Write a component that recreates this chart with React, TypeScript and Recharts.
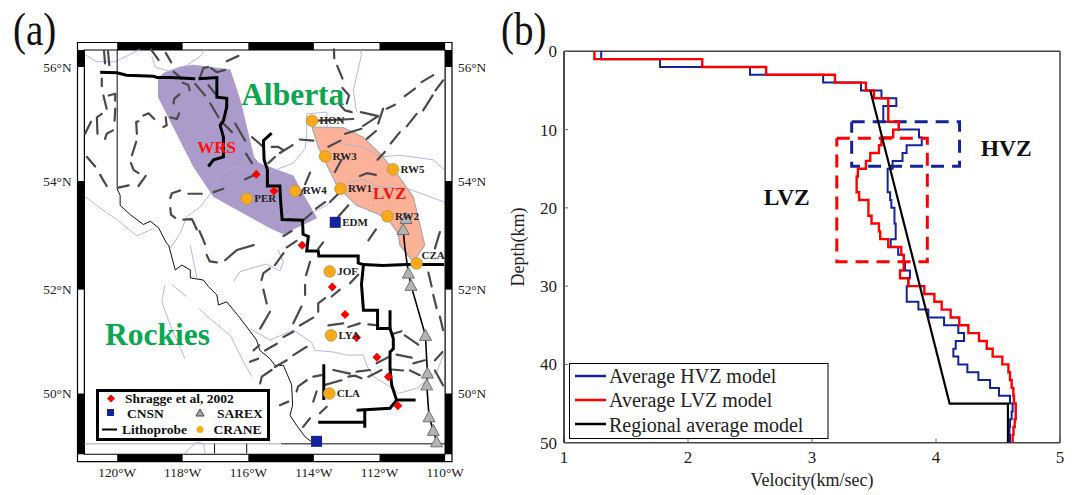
import { ScatterChart, Scatter, XAxis, YAxis, ReferenceArea } from 'recharts';

const SERIF = '"Liberation Serif", "Times New Roman", serif';

// panel (a): map values, [lon, lat]
const lonTicks = [-120, -118, -116, -114, -112, -110];
const latTicks = [50, 52, 54, 56];
const lonLabels = ['120°W', '118°W', '116°W', '114°W', '112°W', '110°W'];
const latLabels = ['50°N', '52°N', '54°N', '56°N'];

const wrsZone = [[-118.74, 55.8], [-118.59, 55.89], [-118.08, 56.0], [-117.67, 56.03], [-116.56, 55.95], [-116.25, 55.42], [-115.84, 54.43], [-115.69, 54.32], [-114.63, 54.09], [-114.43, 53.86], [-113.92, 53.33], [-114.93, 53.04], [-115.34, 53.15], [-117.06, 53.72], [-117.67, 54.26], [-118.59, 55.31], [-118.74, 55.48], [-118.74, 55.8]];
const lvzZone = [[-114.06, 54.96], [-113.11, 54.95], [-112.5, 54.78], [-111.99, 54.49], [-111.48, 54.14], [-110.97, 53.71], [-110.62, 52.83], [-110.97, 52.52], [-111.38, 52.83], [-111.43, 53.04], [-111.73, 53.3], [-112.09, 53.41], [-112.7, 53.56], [-113.26, 53.88], [-113.56, 54.23], [-113.87, 54.61], [-114.06, 54.96]];

const rivers = [
  [[-120.98, 56.21], [-120.62, 56.09], [-120.06, 56.09], [-119.3, 56.3]],
  [[-118.94, 56.18], [-118.84, 56.0], [-118.38, 55.92], [-117.88, 56.03], [-117.47, 56.18], [-117.32, 56.3]],
  [[-120.98, 53.72], [-120.52, 53.51], [-120.01, 53.3], [-119.4, 53.0], [-118.89, 53.14]],
  [[-118.38, 52.77], [-118.08, 53.05], [-117.88, 53.35], [-117.47, 53.53], [-117.16, 53.77], [-116.86, 54.14], [-116.35, 54.26], [-115.74, 54.14], [-115.44, 54.14], [-114.63, 54.32], [-114.27, 54.58], [-114.22, 54.84], [-114.22, 55.19], [-113.61, 55.22], [-113.59, 54.93]],
  [[-117.77, 52.83], [-117.57, 52.22]],
  [[-118.33, 52.09], [-117.88, 51.87]],
  [[-118.54, 52.09], [-118.64, 51.78], [-118.38, 51.32], [-117.93, 50.68]],
  [[-117.52, 51.65], [-117.06, 51.39], [-116.55, 51.13], [-116.15, 50.62], [-115.89, 50.33]],
  [[-116.45, 52.15], [-116.25, 52.34], [-115.74, 52.43], [-115.44, 52.48], [-115.04, 52.35], [-114.93, 52.52], [-115.09, 52.74]],
  [[-117.98, 48.79], [-117.57, 49.04], [-117.37, 49.0], [-117.32, 48.81]],
  [[-115.95, 51.26], [-115.34, 51.04], [-114.63, 51.23], [-114.07, 51.0], [-113.97, 50.84], [-113.41, 50.81], [-113.0, 50.75], [-112.49, 50.75], [-112.39, 50.55], [-112.18, 50.33], [-111.68, 50.13], [-111.43, 50.0], [-110.87, 50.1], [-110.26, 50.42], [-110.03, 50.78]],
  [[-112.6, 56.3], [-112.55, 56.21], [-112.8, 55.6], [-112.7, 55.22]],
  [[-113.21, 54.67], [-112.5, 54.61], [-111.99, 54.43], [-111.38, 54.46], [-110.36, 54.38], [-110.03, 54.2]],
  [[-114.02, 53.44], [-113.61, 53.56], [-113.31, 53.74], [-113.0, 53.97], [-112.5, 54.03], [-112.09, 53.91], [-111.07, 53.85], [-110.67, 53.76], [-110.03, 53.62]],
  [[-114.99, 53.09], [-114.83, 53.38], [-114.43, 53.56]],
];

const provinceBorder = [[-120, 56.3], [-120, 53.86], [-119.91, 53.74], [-119.91, 53.56], [-119.6, 53.39], [-119.2, 53.21], [-118.99, 53.27], [-118.74, 53.15], [-118.49, 52.86], [-118.43, 52.83], [-118.23, 52.37], [-118.03, 52.46], [-117.77, 52.37], [-117.77, 52.22], [-117.37, 52.18], [-117.22, 52.06], [-116.96, 51.9], [-116.91, 51.71], [-116.66, 51.77], [-116.25, 51.46], [-115.75, 51.04], [-115.65, 50.84], [-115.34, 50.68], [-115.19, 50.55], [-114.93, 50.55], [-114.68, 50.17], [-114.65, 49.77], [-114.73, 49.57], [-114.53, 49.37], [-114.27, 49.14], [-114.07, 49.04]];
const borderGray = [[-121, 49], [-115, 49]];
const borderBlack = [[-115, 49], [-110, 49]];
const gridStubs = [
  [[-117.03, 49], [-117.03, 48.81]],
  [[-116.05, 49], [-116.05, 48.81]],
];

const faults = [
  [[-120.4, 56.27], [-120.37, 56.06]],
  [[-120.28, 56.27], [-120.24, 56.03]],
  [[-118.97, 56.3], [-118.74, 56.12]],
  [[-118.52, 56.24], [-118.35, 56.08]],
  [[-116.66, 56.1], [-116.3, 56.19]],
  [[-118.28, 55.92], [-118.03, 55.8]],
  [[-117.47, 55.83], [-117.37, 55.98], [-117.22, 56.0]],
  [[-117.14, 55.98], [-116.96, 55.91], [-116.71, 55.95]],
  [[-120.47, 55.8], [-120.47, 55.67]],
  [[-120.42, 55.51], [-120.32, 55.28]],
  [[-120.26, 55.51], [-120.06, 55.54], [-120.06, 55.42]],
  [[-120.06, 55.28], [-120.08, 55.07]],
  [[-120.47, 55.19], [-120.62, 55.13], [-120.6, 54.84]],
  [[-120.98, 54.84], [-120.8, 55.05]],
  [[-120.37, 54.75], [-120.32, 54.84], [-120.13, 54.9]],
  [[-119.4, 54.84], [-119.42, 55.05], [-119.35, 55.06]],
  [[-119.2, 55.16], [-119.04, 55.2], [-118.87, 55.1]],
  [[-118.52, 55.13], [-118.49, 54.99], [-118.59, 54.96]],
  [[-118.38, 55.13], [-118.18, 55.1], [-118.11, 55.2]],
  [[-118.28, 55.37], [-118.26, 55.45], [-118.1, 55.53]],
  [[-118.0, 55.73], [-117.83, 55.69], [-117.79, 55.6]],
  [[-117.62, 55.71], [-117.32, 55.51]],
  [[-117.16, 55.37], [-116.91, 55.13]],
  [[-117.22, 55.69], [-117.01, 55.54]],
  [[-116.81, 55.05], [-116.5, 54.87]],
  [[-116.4, 55.02], [-116.1, 54.72]],
  [[-116.07, 54.49], [-115.89, 54.32]],
  [[-115.89, 54.78], [-115.54, 54.61]],
  [[-119.42, 54.7], [-119.55, 54.46]],
  [[-119.58, 54.32], [-119.5, 54.2], [-119.35, 54.14]],
  [[-119.35, 53.91], [-119.13, 54.09]],
  [[-119.96, 53.88], [-119.65, 53.92]],
  [[-120.92, 54.43], [-120.67, 54.26]],
  [[-120.52, 54.11], [-120.32, 53.91]],
  [[-118.38, 53.69], [-118.33, 53.78], [-118.08, 53.83]],
  [[-117.83, 53.77], [-117.42, 53.77]],
  [[-117.06, 53.8], [-116.76, 53.86]],
  [[-116.1, 54.03], [-115.79, 54.11]],
  [[-118.38, 53.51], [-118.36, 53.39], [-118.23, 53.33]],
  [[-117.98, 53.3], [-117.72, 53.31], [-117.57, 53.12]],
  [[-117.49, 53.09], [-117.32, 52.85]],
  [[-117.27, 52.65], [-117.18, 52.53], [-116.96, 52.51]],
  [[-116.71, 52.55], [-116.35, 52.74], [-115.84, 52.83]],
  [[-115.84, 50.84], [-115.67, 50.94]],
  [[-113.39, 56.3], [-113.38, 56.15]],
  [[-113.29, 56.02], [-113.13, 55.8]],
  [[-113.13, 55.64], [-112.93, 55.51], [-113.0, 55.37]],
  [[-113.21, 55.35], [-113.05, 55.25], [-112.85, 55.22]],
  [[-112.57, 55.22], [-112.04, 55.15], [-112.5, 54.98]],
  [[-111.89, 55.28], [-112.04, 55.02]],
  [[-111.78, 55.28], [-111.53, 55.35]],
  [[-111.23, 55.5], [-110.92, 55.63]],
  [[-110.72, 55.74], [-110.36, 55.86]],
  [[-112.39, 54.75], [-112.11, 54.89]],
  [[-111.66, 54.67], [-111.38, 54.87]],
  [[-111.17, 54.97], [-110.87, 55.19]],
  [[-110.67, 55.25], [-110.38, 55.51]],
  [[-110.29, 55.6], [-110.06, 55.77]],
  [[-112.06, 54.38], [-111.84, 54.52]],
  [[-113.87, 55.07], [-112.8, 55.1]],
  [[-113.05, 54.84], [-112.55, 54.93]],
  [[-113.56, 54.61], [-113.19, 54.72]],
  [[-114.43, 54.74], [-114.02, 54.72]],
  [[-113.36, 54.16], [-113.16, 54.38]],
  [[-112.6, 54.09], [-112.39, 54.14], [-112.11, 54.11]],
  [[-115.04, 54.5], [-114.65, 54.64]],
  [[-115.29, 54.61], [-115.09, 54.61], [-114.93, 54.55]],
  [[-115.39, 54.32], [-115.19, 54.43]],
  [[-114.27, 53.94], [-114.12, 54.15]],
  [[-114.43, 53.74], [-114.33, 53.85]],
  [[-113.94, 53.5], [-113.66, 53.62]],
  [[-114.93, 53.0], [-114.68, 53.09]],
  [[-114.3, 53.3], [-114.07, 53.42]],
  [[-113.51, 53.62], [-113.26, 53.77]],
  [[-113.26, 53.35], [-112.95, 53.56]],
  [[-112.34, 52.92], [-112.11, 53.12]],
  [[-110.31, 52.77], [-110.16, 53.07]],
  [[-114.83, 52.79], [-114.53, 52.91]],
  [[-113.87, 52.76], [-113.72, 52.88]],
  [[-114.93, 52.68], [-115.19, 52.46]],
  [[-115.6, 52.18], [-115.54, 52.31], [-115.34, 52.4]],
  [[-115.54, 52.0], [-115.44, 51.74]],
  [[-115.34, 51.58], [-115.64, 51.26]],
  [[-114.12, 52.52], [-114.24, 52.27]],
  [[-114.27, 52.09], [-114.27, 51.9]],
  [[-114.38, 51.68], [-114.63, 51.36]],
  [[-114.93, 51.1], [-114.63, 51.2]],
  [[-115.49, 50.84], [-115.13, 50.97]],
  [[-113.87, 51.58], [-113.87, 51.74], [-113.66, 51.84]],
  [[-113.46, 51.87], [-113.21, 52.0]],
  [[-112.9, 52.12], [-112.65, 52.28]],
  [[-114.43, 51.32], [-114.02, 51.47]],
  [[-113.56, 51.32], [-113.11, 51.36]],
  [[-112.95, 51.29], [-112.6, 51.36]],
  [[-112.34, 51.34], [-112.04, 51.32]],
  [[-114.63, 50.75], [-114.22, 50.91]],
  [[-115.95, 50.62], [-115.7, 50.68]],
  [[-115.19, 50.52], [-114.83, 50.65]],
  [[-115.64, 50.2], [-115.59, 50.33], [-115.29, 50.46]],
  [[-113.41, 50.46], [-112.9, 50.39]],
  [[-112.95, 50.33], [-112.75, 50.35], [-112.55, 50.3]],
  [[-112.7, 50.43], [-112.29, 50.46]],
  [[-112.34, 50.33], [-111.94, 50.46]],
  [[-112.09, 50.59], [-111.73, 50.71]],
  [[-114.53, 50.04], [-114.48, 50.14], [-114.22, 50.26]],
  [[-114.02, 50.33], [-113.77, 50.36]],
  [[-113.66, 50.17], [-113.16, 50.26]],
  [[-115.04, 49.77], [-114.78, 49.84]],
  [[-114.02, 49.84], [-113.92, 50.04]],
  [[-113.82, 49.61], [-113.61, 49.74]],
  [[-114.33, 49.34], [-114.12, 49.51]],
  [[-111.58, 51.16], [-111.33, 51.21]],
  [[-111.23, 51.13], [-110.82, 50.95]],
  [[-111.48, 50.76], [-111.02, 50.7]],
  [[-110.97, 50.59], [-110.62, 50.65]],
  [[-111.63, 50.47], [-111.28, 50.45]],
  [[-111.07, 50.45], [-110.77, 50.36]],
  [[-110.51, 52.32], [-110.41, 52.06]],
  [[-110.36, 51.9], [-110.26, 51.65]],
  [[-110.16, 51.49], [-110.06, 51.23]],
  [[-110.31, 50.45], [-110.06, 50.16]],
  [[-110.31, 50.65], [-110.08, 50.81]],
];

const lithoprobe = [
  [[-120.52, 55.91], [-120.01, 55.9], [-119.71, 55.86], [-118.89, 55.84], [-118.79, 55.82], [-118.38, 55.82], [-117.62, 55.8]],
  [[-117.52, 55.8], [-116.96, 55.82], [-116.96, 55.48], [-116.66, 55.46], [-116.66, 55.31], [-116.76, 55.07], [-116.86, 54.99], [-116.76, 54.78], [-116.76, 54.43], [-117.06, 54.38], [-117.22, 54.26]],
  [[-115.29, 54.85], [-115.54, 54.72], [-115.52, 54.38], [-115.42, 54.2], [-115.42, 53.91], [-115.04, 53.91], [-115.02, 53.67], [-114.97, 53.3], [-114.35, 53.29], [-114.33, 53.03], [-114.17, 52.99], [-114.22, 52.72], [-113.87, 52.72], [-113.85, 52.63], [-112.65, 52.63], [-112.65, 52.5], [-112.51, 52.47], [-111.89, 52.45], [-111.17, 52.47], [-110.03, 52.47]],
  [[-112.49, 52.47], [-112.55, 52.1], [-112.49, 51.61], [-112.06, 51.61], [-112.06, 51.26], [-111.68, 51.26], [-111.58, 51.07], [-111.58, 50.87], [-111.68, 50.81], [-111.68, 50.49], [-111.63, 50.17], [-111.48, 49.87], [-111.68, 49.71], [-112.7, 49.67]],
  [[-111.68, 51.61], [-111.68, 51.26]],
  [[-111.48, 49.87], [-110.9, 49.87]],
  [[-112.45, 49.67], [-112.45, 49.32]],
  [[-112.45, 49.43], [-113.87, 49.43]],
  [[-113.7, 50.57], [-113.7, 49.87]],
];

const sarex = [[-111.19, 53.32], [-111.28, 53.12], [-111.12, 52.31], [-111.04, 52.08], [-110.6, 51.13], [-110.54, 50.4], [-110.56, 50.17], [-110.49, 49.54], [-110.36, 49.27], [-110.26, 49.04]];
const sarexLine = [[-111.28, 53.12], [-111.23, 52.8], [-111.12, 52.31], [-111.04, 52.08], [-110.6, 51.13], [-110.54, 50.4], [-110.56, 50.17], [-110.49, 49.54], [-110.36, 49.27], [-110.26, 49.04]];
const shragge = [[-115.76, 54.12], [-115.22, 53.82], [-114.36, 52.83], [-113.44, 52.05], [-113.05, 51.53], [-112.7, 51.09], [-112.08, 50.71], [-111.73, 50.33], [-111.44, 49.76]];
const cnsn = [[-113.35, 53.25, 'EDM'], [-113.92, 49.05, '']];
const crane = [[-114.06, 55.07, 'HON'], [-113.66, 54.44, 'RW3'], [-111.59, 54.21, 'RW5'], [-114.57, 53.82, 'RW4'], [-113.19, 53.86, 'RW1'], [-116.05, 53.68, 'PER'], [-111.76, 53.36, 'RW2'], [-110.87, 52.49, 'CZA'], [-113.52, 52.34, 'JOF'], [-113.48, 51.13, 'LYA'], [-113.53, 50.0, 'CLA']];
const mapTitles = [[-116.22, 55.35, 'Alberta', '#0aa650', 31.5], [-120.37, 50.94, 'Rockies', '#0aa650', 31.5], [-117.56, 54.5, 'WRS', '#ff1010', 17], [-112.2, 53.68, 'LVZ', '#ff1010', 17]];

// panel (b): 1 km layers, velocity per depth interval
const depthBreaks = [0, 1, 2, 3, 4, 5, 6, 9, 10, 11, 12, 13, 14, 15, 16, 18, 19, 21, 22, 23, 24, 25, 26, 28, 29, 30, 31, 32, 33, 34, 35, 36, 37, 38, 39, 40, 41, 42, 43, 44, 45, 47, 48, 49, 50];
const lvzVelocity = [1.245, 2.115, 2.63, 3.185, 3.435, 3.5, 3.615, 3.7, 3.655, 3.56, 3.54, 3.47, 3.435, 3.37, 3.36, 3.38, 3.455, 3.48, 3.54, 3.55, 3.615, 3.72, 3.74, 3.71, 3.777, 3.906, 3.987, 4.046, 4.118, 4.188, 4.261, 4.347, 4.409, 4.457, 4.535, 4.584, 4.597, 4.61, 4.624, 4.629, 4.643, 4.635, 4.625, 4.618];
const hvzBreaks = [0, 1, 2, 3, 4, 5, 6, 7, 9, 10, 11, 12, 13, 14, 15, 18, 19, 20, 22, 24, 25, 26, 27, 28, 29, 30, 32, 33, 34, 35, 36, 37, 38, 39, 40, 41, 42, 43, 44, 45, 46, 47, 48, 49, 50];
const hvzVelocity = [1.3, 1.774, 2.5, 3.09, 3.395, 3.56, 3.68, 3.575, 3.7, 3.863, 3.885, 3.763, 3.73, 3.65, 3.61, 3.63, 3.64, 3.665, 3.675, 3.635, 3.695, 3.74, 3.75, 3.79, 3.777, 3.764, 3.858, 3.938, 4.065, 4.18, 4.226, 4.159, 4.14, 4.18, 4.253, 4.342, 4.436, 4.508, 4.597, 4.618, 4.61, 4.597, 4.592, 4.597];
const regionalModel = [[3.47, 5], [4.11, 45], [4.58, 45], [4.58, 50]];
const hvzBox = [[3.32, 9], [4.19, 9], [4.19, 14.7], [3.32, 14.7], [3.32, 9]];
const lvzBox = [[3.2, 11.1], [3.93, 11.1], [3.93, 26.9], [3.2, 26.9], [3.2, 11.1]];
const velocityTicks = [1, 2, 3, 4, 5];
const depthTicks = [0, 10, 20, 30, 40, 50];
const zoneNames = [[4.36, 13.4, 'HVZ'], [2.61, 19.6, 'LVZ']];

const merc = (lat: number) => (Math.log(Math.tan(Math.PI / 4 + (lat * Math.PI) / 360)) * 180) / Math.PI;
const geo = (pts: any[][]) => pts.map(([lon, lat, name]) => ({ x: lon, y: merc(lat), name }));
const xy = (pts: any[][]) => pts.map(([x, y]) => ({ x, y }));
const steps = (breaks: number[], vel: number[]) =>
  vel.flatMap((v, i) => [{ x: v, y: breaks[i] }, { x: v, y: breaks[i + 1] }]);

const noDot = () => <g />;

const lineSeries = (key: string, data: any[], style: any) => (
  <Scatter key={key} data={data} line={style} shape={noDot} fill="none" legendType="none" isAnimationActive={false} />
);

const diamond = ({ cx, cy }: any) => (
  <polygon points={`${cx - 4.5},${cy} ${cx},${cy - 4.5} ${cx + 4.5},${cy} ${cx},${cy + 4.5}`} fill="#ff0000" />
);
const triangle = ({ cx, cy }: any) => (
  <polygon points={`${cx},${cy - 6} ${cx + 6},${cy + 5} ${cx - 6},${cy + 5}`} fill="#b4b4b4" stroke="#707070" strokeWidth={1} />
);
const square = ({ cx, cy, payload }: any) => (
  <g>
    <rect x={cx - 5.5} y={cy - 5.5} width={11} height={11} fill="#14239a" />
    <text x={cx + 7} y={cy + 4} fontFamily={SERIF} fontWeight="bold" fontSize={11} fill="#222">{payload.name}</text>
  </g>
);
const station = ({ cx, cy, payload }: any) => {
  // CZA sits above the line in the original
  const raised = payload.name === 'CZA';
  return (
    <g>
      <circle cx={cx} cy={cy} r={5.8} fill="#faa918" stroke="#b5924a" strokeWidth={0.8} />
      <text x={cx + (raised ? 5 : 7.5)} y={cy + (raised ? -4.5 : 3.5)} fontFamily={SERIF} fontWeight="bold" fontSize={11} fill="#222">{payload.name}</text>
    </g>
  );
};

const lonDomain: [number, number] = [-121.21, -109.79];
const mercDomain: [number, number] = [merc(48.64), merc(56.417)];
const innerW = -121;
const innerE = -110;
const innerS = merc(48.79);
const innerN = merc(56.29);

// checkered frame of the map
const frameX = [innerW, ...lonTicks, innerE];
const frameY = [innerS, ...latTicks.map(merc), innerN];

function MapPanel() {
  const strips: any[] = [];
  lonTicks.forEach((lon, i) => {
    const next = lonTicks[i + 1];
    if (next === undefined) return;
    const fill = i % 2 === 0 ? '#000' : '#fff';
    strips.push(<ReferenceArea key={`t${i}`} x1={lon} x2={next} y1={innerN} y2={mercDomain[1]} fill={fill} fillOpacity={1} stroke="none" />);
    strips.push(<ReferenceArea key={`b${i}`} x1={lon} x2={next} y1={mercDomain[0]} y2={innerS} fill={fill} fillOpacity={1} stroke="none" />);
  });
  const blackRows = [[frameY[0], frameY[1]], [frameY[2], frameY[3]], [frameY[4], frameY[5]]];
  blackRows.forEach(([a, b], i) => {
    strips.push(<ReferenceArea key={`l${i}`} x1={lonDomain[0]} x2={frameX[0]} y1={a} y2={b} fill="#000" fillOpacity={1} stroke="none" />);
    strips.push(<ReferenceArea key={`r${i}`} x1={innerE} x2={lonDomain[1]} y1={a} y2={b} fill="#000" fillOpacity={1} stroke="none" />);
  });

  const tickStyle = { fontFamily: SERIF, fontSize: 13.3, fill: '#222' };
  return (
    <ScatterChart width={500} height={495} margin={{ top: 12.5, right: 8, bottom: 8.3, left: 17.5 }} style={{ position: 'absolute', left: 0, top: 0 }}>
      <XAxis type="number" dataKey="x" domain={lonDomain} allowDataOverflow ticks={lonTicks} interval={0} height={25} axisLine={false} tickLine={false} tickSize={0} tickMargin={6} tick={tickStyle} tickFormatter={(_: any, i: number) => lonLabels[i]} />
      <XAxis xAxisId="top" orientation="top" type="number" domain={lonDomain} allowDataOverflow ticks={lonTicks} interval={0} height={30} axisLine={false} tickLine={false} tickSize={0} tickMargin={5} tick={tickStyle} tickFormatter={(_: any, i: number) => lonLabels[i]} />
      <YAxis type="number" dataKey="y" domain={mercDomain} allowDataOverflow ticks={latTicks.map(merc)} interval={0} width={60} axisLine={false} tickLine={false} tickSize={0} tickMargin={6} tick={tickStyle} tickFormatter={(_: any, i: number) => latLabels[i]} />
      <YAxis yAxisId="right" orientation="right" type="number" domain={mercDomain} allowDataOverflow ticks={latTicks.map(merc)} interval={0} width={40} axisLine={false} tickLine={false} tickSize={0} tickMargin={6} tick={tickStyle} tickFormatter={(_: any, i: number) => latLabels[i]} />

      {strips}
      <ReferenceArea x1={lonDomain[0]} x2={lonDomain[1]} y1={mercDomain[0]} y2={mercDomain[1]} fill="none" stroke="#000" strokeWidth={1.2} />
      <ReferenceArea x1={innerW} x2={innerE} y1={innerS} y2={innerN} fill="none" stroke="#000" strokeWidth={1.2} />

      {lineSeries('wrs', geo(wrsZone), { fill: '#ab9bcb', stroke: '#ab9bcb', strokeWidth: 1 })}
      {lineSeries('lvz', geo(lvzZone), { fill: '#fbb298', stroke: '#a9a9a9', strokeWidth: 1.2 })}
      {rivers.map((r, i) => lineSeries(`river${i}`, geo(r), { stroke: '#aab0dc', strokeWidth: 0.9 }))}
      {lineSeries('border', geo(provinceBorder), { stroke: '#111', strokeWidth: 1 })}
      {lineSeries('borderGray', geo(borderGray), { stroke: '#aaa', strokeWidth: 1 })}
      {lineSeries('borderBlack', geo(borderBlack), { stroke: '#111', strokeWidth: 1 })}
      {gridStubs.map((s, i) => lineSeries(`stub${i}`, geo(s), { stroke: '#111', strokeWidth: 1 }))}
      {faults.map((f, i) => lineSeries(`fault${i}`, geo(f), { stroke: '#4a4a4a', strokeWidth: 2.2, strokeLinecap: 'round', strokeLinejoin: 'round' }))}
      {lithoprobe.map((l, i) => lineSeries(`litho${i}`, geo(l), { stroke: '#000', strokeWidth: 3 }))}
      {lineSeries('sarexLine', geo(sarexLine), { stroke: '#000', strokeWidth: 1.6 })}

      <Scatter data={geo(sarex)} shape={triangle} legendType="none" isAnimationActive={false} />
      <Scatter data={geo(shragge)} shape={diamond} legendType="none" isAnimationActive={false} />
      <Scatter data={geo(cnsn)} shape={square} legendType="none" isAnimationActive={false} />
      <Scatter data={geo(crane)} shape={station} legendType="none" isAnimationActive={false} />
      <Scatter
        data={mapTitles.map(([lon, lat, text, color, size]: any) => ({ x: lon, y: merc(lat), text, color, size }))}
        shape={({ cx, cy, payload }: any) => (
          <text x={cx} y={cy} fontFamily={SERIF} fontWeight="bold" fontSize={payload.size} fill={payload.color}>{payload.text}</text>
        )}
        legendType="none"
        isAnimationActive={false}
      />
    </ScatterChart>
  );
}

function VelocityPanel() {
  const tickStyle = { fontFamily: SERIF, fontSize: 17, fill: '#222' };
  const frame = { stroke: '#444', strokeWidth: 1.5 };
  return (
    <ScatterChart width={573} height={495} margin={{ top: 31.3, right: 0, bottom: 7.3, left: 14 }} style={{ position: 'absolute', left: 500, top: 0 }}>
      <XAxis
        type="number" dataKey="x" domain={[1, 5]} allowDataOverflow ticks={velocityTicks} interval={0} height={45}
        axisLine={frame} tickLine={{ stroke: '#666' }} tickSize={-4} tickMargin={12} tick={tickStyle}
        label={{ value: 'Velocity(km/sec)', position: 'insideBottom', offset: 2, style: { fontFamily: SERIF, fontSize: 18, fill: '#222' } }}
      />
      <XAxis xAxisId="top" orientation="top" type="number" domain={[1, 5]} allowDataOverflow ticks={velocityTicks} interval={0} height={20} axisLine={frame} tickLine={{ stroke: '#666' }} tickSize={-4} tick={false} />
      <YAxis
        type="number" dataKey="y" domain={[0, 50]} reversed allowDataOverflow ticks={depthTicks} interval={0} width={50}
        axisLine={{ stroke: '#111', strokeWidth: 1.5 }} tickLine={{ stroke: '#666' }} tickSize={-4} tickMargin={11} tick={tickStyle}
        label={{ value: 'Depth(km)', angle: -90, position: 'insideLeft', offset: 4, style: { fontFamily: SERIF, fontSize: 18, fill: '#222', textAnchor: 'middle' } }}
      />
      <YAxis yAxisId="right" orientation="right" type="number" domain={[0, 50]} reversed allowDataOverflow ticks={depthTicks} interval={0} width={13} axisLine={frame} tickLine={{ stroke: '#666' }} tickSize={-4} tick={false} />

      {lineSeries('hvzBox', xy(hvzBox), { stroke: '#14239a', strokeWidth: 3, strokeDasharray: '13 8' })}
      {lineSeries('hvz', steps(hvzBreaks, hvzVelocity), { stroke: '#14239a', strokeWidth: 2 })}
      {lineSeries('lvzBox', xy(lvzBox), { stroke: '#ff0000', strokeWidth: 3, strokeDasharray: '13 8' })}
      {lineSeries('lvz', steps(depthBreaks, lvzVelocity), { stroke: '#ff0000', strokeWidth: 2.4 })}
      {lineSeries('regional', xy(regionalModel), { stroke: '#000', strokeWidth: 2.2 })}
      <Scatter
        data={zoneNames.map(([x, y, text]: any) => ({ x, y, text }))}
        shape={({ cx, cy, payload }: any) => (
          <text x={cx} y={cy} fontFamily={SERIF} fontWeight="bold" fontSize={23.5} fill="#111">{payload.text}</text>
        )}
        legendType="none"
        isAnimationActive={false}
      />
    </ScatterChart>
  );
}

const legendText = (x: number, y: number, text: string) => (
  <text x={x} y={y} fontFamily={SERIF} fontWeight="bold" fontSize={13.5} fill="#111">{text}</text>
);

function MapLegend() {
  return (
    <svg width={174} height={52} style={{ position: 'absolute', left: 96, top: 388.5 }}>
      <rect x={1.5} y={1.5} width={171} height={49} fill="#fff" stroke="#000" strokeWidth={3} />
      <polygon points="11,9.5 15,5.5 19,9.5 15,13.5" fill="#ff0000" />
      {legendText(29, 14, 'Shragge et al, 2002')}
      <rect x={11} y={20} width={7} height={7} fill="#14239a" />
      {legendText(31, 29, 'CNSN')}
      <polygon points="104,20 108,27 100,27" fill="#aaa" stroke="#444" strokeWidth={1} />
      {legendText(121, 29, 'SAREX')}
      <line x1={6} y1={40.5} x2={21} y2={40.5} stroke="#000" strokeWidth={2} />
      {legendText(26, 45, 'Lithoprobe')}
      <circle cx={104} cy={40.5} r={3.5} fill="#faa918" />
      {legendText(117.5, 45, 'CRANE')}
    </svg>
  );
}

function VelocityLegend() {
  const rows = [
    ['Average HVZ model', '#14239a'],
    ['Average LVZ model', '#ff0000'],
    ['Regional average model', '#000'],
  ];
  return (
    <svg width={260} height={76} style={{ position: 'absolute', left: 569, top: 363 }}>
      <rect x={0.5} y={0.5} width={258.5} height={75} fill="#fff" stroke="#000" strokeWidth={1} />
      {rows.map(([label, color], i) => (
        <g key={label}>
          <line x1={6} y1={13 + i * 24} x2={37} y2={13 + i * 24} stroke={color} strokeWidth={2.5} />
          <text x={40} y={20 + i * 24.3} fontFamily={SERIF} fontSize={20} fill="#222">{label}</text>
        </g>
      ))}
    </svg>
  );
}

const panelLetter = (left: number, text: string) => (
  <div style={{ position: 'absolute', left, top: 7, fontFamily: SERIF, fontSize: 39, lineHeight: '46px', color: '#111', transform: 'scaleY(1.17)' }}>{text}</div>
);

export default function App() {
  return (
    <div style={{ position: 'absolute', left: 0, top: 0, width: 1073, height: 495, background: '#fff', overflow: 'hidden' }}>
      <MapPanel />
      <VelocityPanel />
      <MapLegend />
      <VelocityLegend />
      {panelLetter(13, '(a)')}
      {panelLetter(501, '(b)')}
    </div>
  );
}
